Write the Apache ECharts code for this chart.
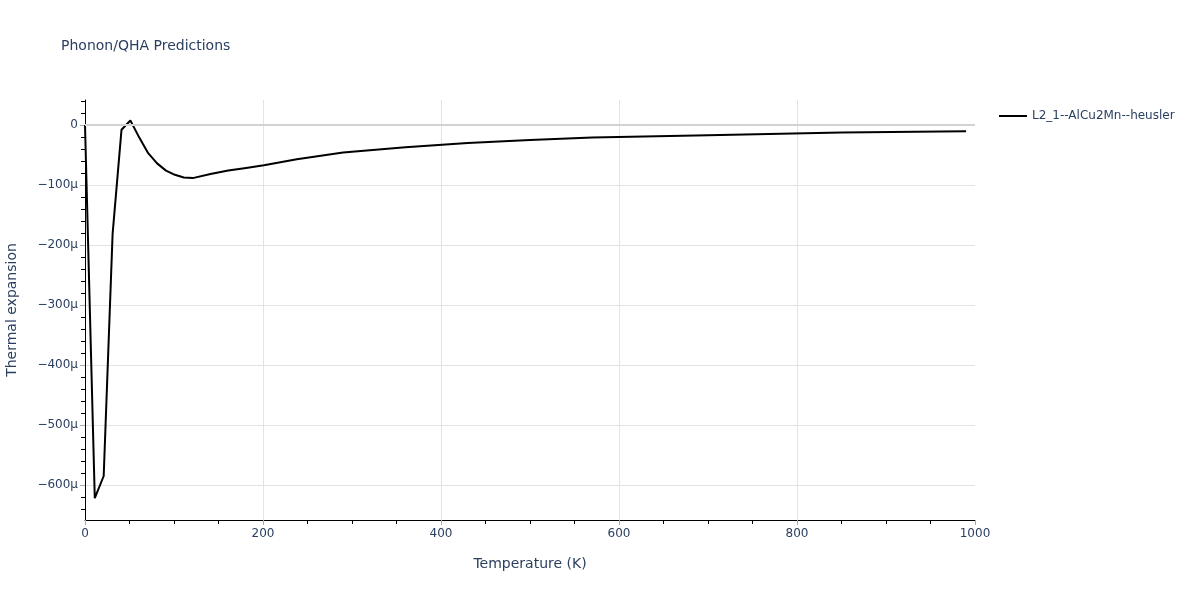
<!DOCTYPE html>
<html>
<head>
<meta charset="utf-8">
<script src="https://cdn.jsdelivr.net/npm/echarts@6/dist/echarts.min.js"></script>
<style>html,body{margin:0;padding:0;background:#fff}#c{width:1200px;height:600px}</style>
</head>
<body>
<div id="c"></div>
<script>
// Temperature (K)
var temperatures = [0, 11, 21, 31, 41, 51, 61, 71, 81, 91, 101, 111, 121, 141, 161, 181, 201, 238, 290, 360, 430, 500, 570, 700, 850, 990];
// Thermal expansion, in micro-units (1e-6 / K)
var alphaMicro = [0, -622, -585, -182, -8, 7.5, -21, -47, -64, -76, -83, -87.5, -88.5, -81.5, -76, -71.5, -67, -57, -46, -37, -30, -25, -21, -17, -12.5, -10.5];
var seriesName = 'L2_1--AlCu2Mn--heusler';
var yMajorTicks = [-600, -500, -400, -300, -200, -100, 0];
var yMinorTicks = [-640, -620, -580, -560, -540, -520, -480, -460, -440, -420, -380, -360, -340, -320, -280, -260, -240, -220, -180, -160, -140, -120, -80, -60, -40, -20, 20, 40];
var yRange = [-658.33, 41.67];
var xRange = [0, 1000];

var textColor = '#2a3f5f';
var font = 'DejaVu Sans';
function fmtY(v) {
  if (Math.abs(v) < 1e-9) return '0';
  return (v < 0 ? '\u2212' : '') + Math.abs(Math.round(v)) + '\u00b5';
}

var chart = echarts.init(document.getElementById('c'), null, {renderer: 'canvas'});
chart.setOption({
  animation: false,
  backgroundColor: '#fff',
  title: {
    text: 'Phonon/QHA Predictions', left: 56, top: 34,
    textStyle: {color: textColor, fontFamily: font, fontSize: 14, fontWeight: 'normal'}
  },
  legend: {
    left: 994, top: 105, itemWidth: 28, itemHeight: 2,
    textStyle: {color: textColor, fontFamily: font, fontSize: 12},
    data: [{name: seriesName, icon: 'rect'}]
  },
  grid: {left: 85, right: 225, top: 100, bottom: 80, containLabel: false, outerBoundsMode: 'none'},
  xAxis: {
    type: 'value', min: xRange[0], max: xRange[1], interval: 200,
    name: 'Temperature (K)', nameLocation: 'middle', nameGap: 37,
    nameTextStyle: {color: textColor, fontFamily: font, fontSize: 14},
    axisLine: {show: true, onZero: false, lineStyle: {color: '#000', width: 1}},
    axisTick: {show: true, length: 5, lineStyle: {color: '#aaa'}},
    minorTick: {show: true, splitNumber: 4, length: 4, lineStyle: {color: '#000'}},
    axisLabel: {color: textColor, fontFamily: font, fontSize: 12, margin: 8, formatter: function (v) { return String(v); }},
    splitLine: {show: true, showMinLine: false, showMaxLine: false, lineStyle: {color: '#e3e3e3', width: 1}}
  },
  yAxis: [{
    type: 'value', min: yRange[0], max: yRange[1],
    name: 'Thermal expansion', nameLocation: 'middle', nameGap: 66,
    nameTextStyle: {color: textColor, fontFamily: font, fontSize: 14},
    axisLine: {show: true, onZero: false, lineStyle: {color: '#000', width: 1}},
    axisTick: {show: true, length: 5, customValues: yMajorTicks, lineStyle: {color: '#aaa'}},
    axisLabel: {color: textColor, fontFamily: font, fontSize: 12, margin: 7, customValues: yMajorTicks, formatter: fmtY},
    splitLine: {show: true, lineStyle: {color: '#e3e3e3', width: 1}}
  }, {
    type: 'value', min: yRange[0], max: yRange[1], position: 'left',
    axisLine: {show: false, onZero: false},
    axisTick: {show: true, length: 4, customValues: yMinorTicks, lineStyle: {color: '#000'}},
    axisLabel: {show: false, customValues: yMinorTicks},
    splitLine: {show: false}
  }],
  series: [{
    name: seriesName, type: 'line', yAxisIndex: 0,
    data: temperatures.map(function (t, i) { return [t, alphaMicro[i]]; }),
    symbol: 'none', showSymbol: false,
    lineStyle: {color: '#000', width: 2},
    itemStyle: {color: '#000'},
    markLine: {
      silent: true, symbol: 'none', label: {show: false},
      lineStyle: {color: '#d2d2d2', width: 2, type: 'solid'},
      data: [{yAxis: 0}]
    },
    z: 3
  }]
});
</script>
</body>
</html>
